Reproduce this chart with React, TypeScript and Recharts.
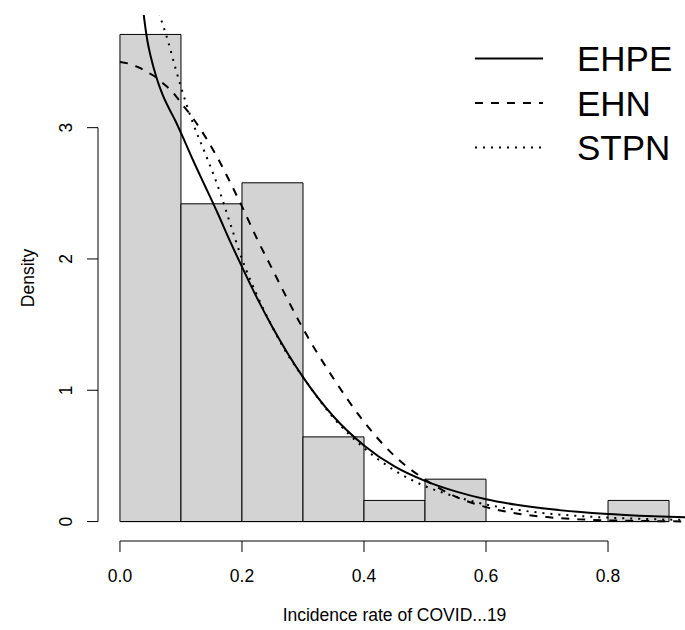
import React from 'react';
import { ComposedChart, Line, XAxis, YAxis, ReferenceArea, ReferenceLine } from 'recharts';

// Histogram bins (Incidence rate) and densities
const binStarts = [0.0, 0.1, 0.2, 0.3, 0.4, 0.5, 0.6, 0.7, 0.8];
const binEnds = [0.1, 0.2, 0.3, 0.4, 0.5, 0.6, 0.7, 0.8, 0.9];
const densities = [3.71, 2.42, 2.58, 0.645, 0.161, 0.323, 0, 0, 0.161];

// Fitted density curves
const curveX = [0, 0.02, 0.03, 0.035, 0.04, 0.045, 0.05, 0.06, 0.065, 0.07, 0.08, 0.09, 0.1, 0.12, 0.14, 0.16, 0.18, 0.2, 0.225, 0.25, 0.275, 0.3, 0.35, 0.4, 0.45, 0.5, 0.55, 0.6, 0.65, 0.7, 0.75, 0.8, 0.85, 0.9, 0.936];
const ehpe = [null, null, 4.35, 4.05, 3.82, 3.66, 3.55, 3.38, 3.31, 3.25, 3.15, 3.06, 2.96, 2.75, 2.55, 2.35, 2.14, 1.94, 1.70, 1.48, 1.28, 1.10, 0.80, 0.58, 0.42, 0.31, 0.23, 0.17, 0.128, 0.097, 0.074, 0.057, 0.045, 0.036, 0.031];
const ehn = [3.50, 3.48, 3.46, 3.45, 3.43, 3.42, 3.41, 3.38, 3.36, 3.34, 3.30, 3.25, 3.19, 3.07, 2.93, 2.77, 2.59, 2.40, 2.15, 1.92, 1.69, 1.47, 1.09, 0.76, 0.50, 0.32, 0.19, 0.11, 0.062, 0.034, 0.018, 0.009, 0.0045, 0.002, 0.001];
const stpn = [null, null, null, null, null, null, null, 4.3, 3.87, 3.79, 3.64, 3.47, 3.31, 3.03, 2.80, 2.56, 2.28, 2.00, 1.72, 1.48, 1.27, 1.10, 0.79, 0.56, 0.39, 0.27, 0.19, 0.13, 0.09, 0.062, 0.043, 0.03, 0.021, 0.015, 0.012];

const xTicks = [0, 0.2, 0.4, 0.6, 0.8];
const xTickLabels = ['0.0', '0.2', '0.4', '0.6', '0.8'];
const yTicks = [0, 1, 2, 3];

const seriesNames = ['EHPE', 'EHN', 'STPN'];
const seriesDash = ['', '8 8', '2 6'];

const xLabel = 'Incidence rate of COVID...19';
const yLabel = 'Density';

const FONT = '"Liberation Sans", Arial, Helvetica, sans-serif';

const curveData = curveX.map((x, i) => ({ x, ehpe: ehpe[i], ehn: ehn[i], stpn: stpn[i] }));

const XTick = (props: any) => {
  const { x, payload } = props;
  const idx = xTicks.indexOf(payload.value);
  return (
    <text x={x} y={582} textAnchor="middle" fontFamily={FONT} fontSize={17.5} fill="#000">
      {idx >= 0 ? xTickLabels[idx] : String(payload.value)}
    </text>
  );
};

const YTick = (props: any) => {
  const { y, payload } = props;
  return (
    <text x={72} y={y} transform={`rotate(-90 72 ${y})`} textAnchor="middle" fontFamily={FONT} fontSize={17.5} fill="#000">
      {payload.value}
    </text>
  );
};

export default function App() {
  return (
    <div style={{ position: 'absolute', left: 0, top: 0, width: 685, height: 630, overflow: 'hidden', background: '#fff' }}>
      <ComposedChart width={700} height={630} data={curveData} margin={{ top: 15, right: 9, bottom: 29, left: 38 }}>
        <XAxis
          dataKey="x"
          type="number"
          domain={[-0.036, 0.936]}
          allowDataOverflow
          ticks={xTicks}
          interval={0}
          height={60}
          axisLine={false}
          tickLine={{ stroke: '#000', strokeWidth: 1 }}
          tickSize={11}
          tick={<XTick />}
        />
        <YAxis
          type="number"
          domain={[-0.148, 3.858]}
          allowDataOverflow
          ticks={yTicks}
          interval={0}
          width={60}
          axisLine={false}
          tickLine={{ stroke: '#000', strokeWidth: 1 }}
          tickSize={11}
          tick={<YTick />}
        />
        {binStarts.map((b, i) =>
          densities[i] > 0 ? (
            <ReferenceArea
              key={'bin' + i}
              x1={b}
              x2={binEnds[i]}
              y1={0}
              y2={densities[i]}
              fill="#d3d3d3"
              fillOpacity={1}
              stroke="#000"
              strokeWidth={1}
              ifOverflow="visible"
            />
          ) : null
        )}
        <ReferenceLine segment={[{ x: binStarts[0], y: 0 }, { x: binEnds[binEnds.length - 1], y: 0 }]} stroke="#000" strokeWidth={1} ifOverflow="visible" />
        <ReferenceLine segment={[{ x: -0.036, y: 0 }, { x: -0.036, y: 3 }]} stroke="#000" strokeWidth={1} ifOverflow="visible" />
        <ReferenceLine segment={[{ x: 0, y: -0.148 }, { x: 0.8, y: -0.148 }]} stroke="#000" strokeWidth={1} ifOverflow="visible" />
        <Line dataKey="ehpe" type="monotone" stroke="#000" strokeWidth={2} dot={false} activeDot={false} isAnimationActive={false} />
        <Line dataKey="ehn" type="monotone" stroke="#000" strokeWidth={2} strokeDasharray={seriesDash[1]} dot={false} activeDot={false} isAnimationActive={false} />
        <Line dataKey="stpn" type="monotone" stroke="#000" strokeWidth={2} strokeDasharray={seriesDash[2]} dot={false} activeDot={false} isAnimationActive={false} />
      </ComposedChart>
      <svg width={685} height={630} style={{ position: 'absolute', left: 0, top: 0, pointerEvents: 'none' }}>
        <text x={394.5} y={620.5} textAnchor="middle" fontFamily={FONT} fontSize={17.5} fill="#000">{xLabel}</text>
        <text x={34} y={278} transform="rotate(-90 34 278)" textAnchor="middle" fontFamily={FONT} fontSize={17.5} fill="#000">{yLabel}</text>
        {seriesNames.map((name, i) => {
          const cy = 58.5 + i * 44.5;
          return (
            <g key={name}>
              <line x1={475} x2={543} y1={cy} y2={cy} stroke="#000" strokeWidth={2} strokeDasharray={seriesDash[i] || undefined} />
              <text x={577} y={cy + 12.5} fontFamily={FONT} fontSize={35} fill="#000">{name}</text>
            </g>
          );
        })}
      </svg>
    </div>
  );
}
